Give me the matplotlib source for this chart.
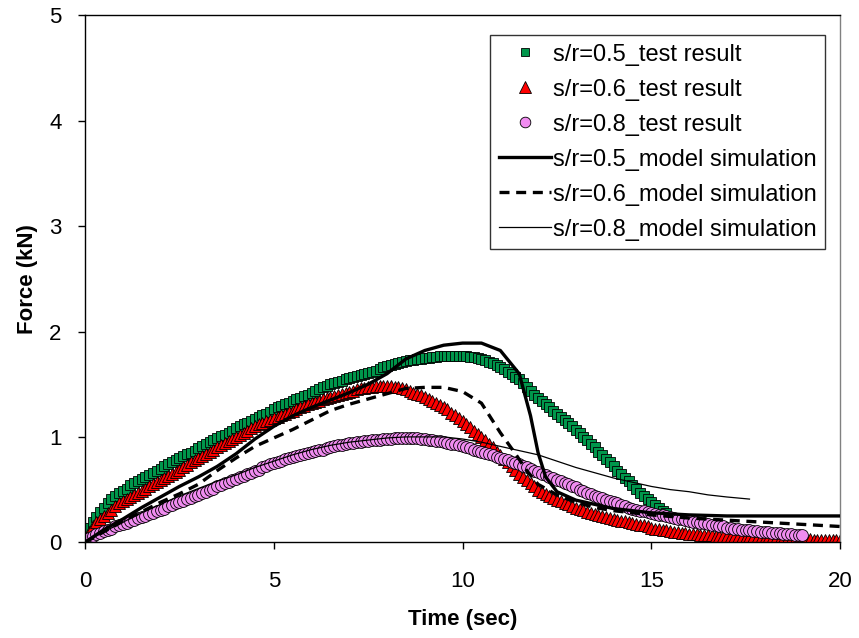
import numpy as np
import matplotlib.pyplot as plt

# test results, sampled every 0.1 s
t_test_05 = np.round(np.arange(0, 155) * 0.1, 1)
f_test_05 = [
    0.08, 0.14, 0.19, 0.24, 0.29, 0.33, 0.37, 0.41, 0.44, 0.47,
    0.49, 0.51, 0.54, 0.56, 0.58, 0.60, 0.62, 0.64, 0.66, 0.68,
    0.70, 0.72, 0.74, 0.76, 0.78, 0.80, 0.82, 0.84, 0.85, 0.87,
    0.89, 0.91, 0.93, 0.95, 0.97, 0.99, 1.01, 1.02, 1.04, 1.06,
    1.08, 1.10, 1.12, 1.13, 1.15, 1.17, 1.19, 1.21, 1.22, 1.24,
    1.26, 1.28, 1.29, 1.31, 1.32, 1.34, 1.36, 1.37, 1.39, 1.40,
    1.42, 1.44, 1.45, 1.47, 1.48, 1.50, 1.51, 1.52, 1.53, 1.55,
    1.56, 1.57, 1.58, 1.59, 1.60, 1.61, 1.62, 1.63, 1.64, 1.66,
    1.67, 1.68, 1.69, 1.70, 1.71, 1.72, 1.73, 1.73, 1.74, 1.74,
    1.75, 1.75, 1.76, 1.76, 1.77, 1.77, 1.77, 1.77, 1.77, 1.77,
    1.77, 1.77, 1.76, 1.76, 1.75, 1.74, 1.73, 1.71, 1.70, 1.68,
    1.66, 1.64, 1.62, 1.60, 1.57, 1.55, 1.51, 1.47, 1.44, 1.40,
    1.37, 1.34, 1.31, 1.28, 1.25, 1.22, 1.19, 1.16, 1.13, 1.10,
    1.07, 1.04, 1.00, 0.97, 0.93, 0.90, 0.86, 0.83, 0.79, 0.76,
    0.72, 0.68, 0.65, 0.61, 0.58, 0.54, 0.51, 0.47, 0.44, 0.41,
    0.38, 0.35, 0.33, 0.30, 0.28,
]

t_test_06 = np.round(np.arange(0, 201) * 0.1, 1)
f_test_06 = [
    0.05, 0.10, 0.15, 0.19, 0.22, 0.25, 0.28, 0.31, 0.34, 0.37,
    0.39, 0.41, 0.43, 0.45, 0.47, 0.49, 0.51, 0.53, 0.55, 0.57,
    0.59, 0.61, 0.63, 0.65, 0.67, 0.69, 0.71, 0.73, 0.76, 0.78,
    0.80, 0.82, 0.84, 0.86, 0.88, 0.90, 0.92, 0.94, 0.96, 0.98,
    1.00, 1.02, 1.04, 1.06, 1.08, 1.10, 1.12, 1.13, 1.15, 1.16,
    1.18, 1.19, 1.21, 1.22, 1.24, 1.25, 1.26, 1.28, 1.29, 1.31,
    1.32, 1.33, 1.34, 1.36, 1.37, 1.38, 1.39, 1.40, 1.41, 1.42,
    1.43, 1.44, 1.45, 1.46, 1.46, 1.47, 1.47, 1.48, 1.48, 1.48,
    1.48, 1.48, 1.47, 1.47, 1.46, 1.45, 1.44, 1.42, 1.41, 1.40,
    1.38, 1.36, 1.34, 1.32, 1.30, 1.28, 1.26, 1.23, 1.21, 1.18,
    1.15, 1.12, 1.09, 1.06, 1.03, 1.00, 0.97, 0.93, 0.90, 0.86,
    0.83, 0.79, 0.76, 0.72, 0.69, 0.65, 0.62, 0.59, 0.56, 0.53,
    0.50, 0.48, 0.46, 0.44, 0.42, 0.40, 0.39, 0.37, 0.36, 0.34,
    0.33, 0.32, 0.31, 0.29, 0.28, 0.27, 0.26, 0.25, 0.24, 0.23,
    0.22, 0.21, 0.20, 0.20, 0.19, 0.18, 0.17, 0.16, 0.16, 0.15,
    0.14, 0.13, 0.13, 0.12, 0.12, 0.11, 0.10, 0.10, 0.09, 0.09,
    0.08, 0.08, 0.08, 0.07, 0.07, 0.07, 0.07, 0.06, 0.06, 0.06,
    0.06, 0.06, 0.05, 0.05, 0.05, 0.05, 0.05, 0.05, 0.04, 0.04,
    0.04, 0.04, 0.04, 0.04, 0.03, 0.03, 0.03, 0.03, 0.03, 0.03,
    0.03, 0.03, 0.03, 0.02, 0.02, 0.02, 0.02, 0.02, 0.02, 0.02,
    0.02,
]

t_test_08 = np.round(np.arange(0, 191) * 0.1, 1)
f_test_08 = [
    0.02, 0.04, 0.06, 0.08, 0.09, 0.11, 0.12, 0.13, 0.15, 0.16,
    0.17, 0.18, 0.20, 0.21, 0.23, 0.24, 0.25, 0.27, 0.28, 0.30,
    0.31, 0.32, 0.34, 0.35, 0.37, 0.38, 0.39, 0.41, 0.42, 0.44,
    0.45, 0.47, 0.48, 0.50, 0.51, 0.53, 0.54, 0.56, 0.57, 0.59,
    0.60, 0.62, 0.63, 0.65, 0.66, 0.68, 0.69, 0.71, 0.72, 0.74,
    0.75, 0.76, 0.77, 0.79, 0.80, 0.81, 0.82, 0.83, 0.84, 0.85,
    0.86, 0.87, 0.88, 0.88, 0.89, 0.90, 0.91, 0.92, 0.92, 0.93,
    0.94, 0.94, 0.95, 0.95, 0.96, 0.96, 0.97, 0.97, 0.97, 0.98,
    0.98, 0.98, 0.99, 0.99, 0.99, 0.99, 0.99, 0.99, 0.99, 0.98,
    0.98, 0.97, 0.97, 0.96, 0.96, 0.95, 0.94, 0.93, 0.93, 0.92,
    0.91, 0.90, 0.89, 0.88, 0.87, 0.86, 0.85, 0.84, 0.83, 0.81,
    0.80, 0.79, 0.78, 0.76, 0.75, 0.74, 0.72, 0.71, 0.70, 0.68,
    0.67, 0.65, 0.64, 0.62, 0.61, 0.59, 0.58, 0.56, 0.55, 0.53,
    0.52, 0.50, 0.49, 0.47, 0.46, 0.44, 0.43, 0.42, 0.40, 0.39,
    0.38, 0.37, 0.35, 0.34, 0.33, 0.32, 0.31, 0.30, 0.30, 0.29,
    0.28, 0.27, 0.26, 0.26, 0.25, 0.24, 0.23, 0.22, 0.22, 0.21,
    0.20, 0.19, 0.19, 0.18, 0.18, 0.17, 0.16, 0.16, 0.15, 0.15,
    0.14, 0.14, 0.13, 0.13, 0.12, 0.12, 0.12, 0.11, 0.11, 0.10,
    0.10, 0.10, 0.09, 0.09, 0.09, 0.08, 0.08, 0.08, 0.07, 0.07,
    0.07,
]

# model simulations
t_model_05 = [0, 0.5, 1, 1.5, 2, 2.5, 3, 3.5, 4, 4.5, 5, 5.5, 6, 6.5, 7,
              7.5, 8, 8.5, 9, 9.5, 10, 10.5, 11, 11.5, 11.8, 12, 12.2,
              12.5, 13, 13.5, 14, 14.5, 15, 15.5, 16, 17, 18, 19, 20]
f_model_05 = [0.0, 0.12, 0.22, 0.33, 0.43, 0.53, 0.62, 0.72, 0.84, 0.98,
              1.10, 1.20, 1.28, 1.35, 1.42, 1.50, 1.60, 1.74, 1.82, 1.87,
              1.89, 1.89, 1.82, 1.60, 1.20, 0.85, 0.62, 0.48, 0.40, 0.36,
              0.32, 0.30, 0.28, 0.27, 0.26, 0.25, 0.25, 0.25, 0.25]

t_model_06 = [0, 0.5, 1, 1.5, 2, 2.5, 3, 3.5, 4, 4.5, 5, 5.5, 6, 6.5, 7,
              7.5, 8, 8.5, 9, 9.5, 10, 10.5, 11, 11.4, 11.7, 12, 12.5,
              13, 13.5, 14, 14.5, 15, 16, 17, 18, 19, 20]
f_model_06 = [0.0, 0.10, 0.20, 0.29, 0.38, 0.46, 0.55, 0.68, 0.80, 0.91,
              0.99, 1.07, 1.16, 1.25, 1.31, 1.36, 1.41, 1.46, 1.47, 1.47,
              1.43, 1.32, 1.04, 0.84, 0.68, 0.55, 0.45, 0.38, 0.33, 0.30,
              0.28, 0.26, 0.23, 0.21, 0.19, 0.17, 0.15]

t_model_08 = [0, 0.5, 1, 1.5, 2, 2.5, 3, 3.5, 4, 4.5, 5, 5.5, 6, 6.5, 7,
              7.5, 8, 8.5, 9, 9.5, 10, 10.5, 11, 11.5, 12, 12.5, 13, 13.5,
              14, 14.5, 15, 15.5, 16, 16.5, 17, 17.6]
f_model_08 = [0.0, 0.10, 0.19, 0.28, 0.36, 0.44, 0.51, 0.58, 0.64, 0.71,
              0.77, 0.83, 0.88, 0.92, 0.95, 0.97, 0.99, 1.0, 1.0, 1.0,
              0.98, 0.95, 0.91, 0.87, 0.83, 0.77, 0.71, 0.66, 0.61, 0.57,
              0.53, 0.50, 0.48, 0.45, 0.43, 0.41]


def main():
    plt.rcParams['font.family'] = ['Liberation Sans', 'DejaVu Sans']
    fig = plt.figure(figsize=(8.59, 6.38), dpi=100)
    ax = fig.add_axes([0.099, 0.150, 0.879, 0.826])

    ax.plot(t_test_05, f_test_05, ls='none', marker='s', ms=6.5,
            mfc='#00964B', mec='black', mew=0.6, label='s/r=0.5_test result')
    ax.plot(t_test_06, f_test_06, ls='none', marker='^', ms=9,
            mfc='#FF0000', mec='black', mew=0.6, label='s/r=0.6_test result')
    ax.plot(t_test_08, f_test_08, ls='none', marker='o', ms=8.5,
            mfc='#F08CF0', mec='black', mew=0.6, label='s/r=0.8_test result')
    ax.plot(t_model_05, f_model_05, color='black', lw=2.4,
            label='s/r=0.5_model simulation', zorder=4)
    ax.plot(t_model_06, f_model_06, color='black', lw=2.4, ls=(0, (3, 2)),
            label='s/r=0.6_model simulation', zorder=4)
    ax.plot(t_model_08, f_model_08, color='black', lw=0.9,
            label='s/r=0.8_model simulation', zorder=4)

    ax.set_xlim(0, 20)
    ax.set_ylim(0, 5)
    ax.set_xticks([0, 5, 10, 15, 20])
    ax.set_yticks([0, 1, 2, 3, 4, 5])
    ax.tick_params(direction='out', length=5, width=1, labelsize=16, pad=12)
    ax.tick_params(axis='x', pad=16)
    for s in ax.spines.values():
        s.set_linewidth(1)
    ax.spines['right'].set_color('#808080')

    ax.set_xlabel('Time (sec)', fontsize=16, fontweight='bold', labelpad=12)
    ax.set_ylabel('Force (kN)', fontsize=16, fontweight='bold', labelpad=8)

    leg = ax.legend(loc='upper right', bbox_to_anchor=(0.980, 0.962),
                    fontsize=17, numpoints=1, frameon=True, fancybox=False,
                    edgecolor='black', handlelength=2.2, handletextpad=0.1,
                    labelspacing=0.55, borderpad=0.35, borderaxespad=0,
                    markerscale=0.9)
    leg.get_frame().set_linewidth(1)

    fig.savefig('out.png', dpi=100)


if __name__ == '__main__':
    main()
